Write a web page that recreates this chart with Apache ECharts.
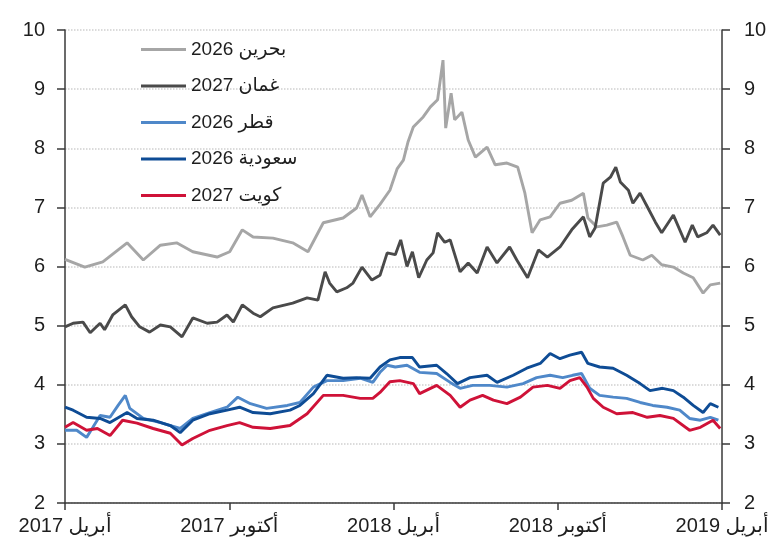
<!DOCTYPE html>
<html><head><meta charset="utf-8">
<script src="https://cdn.jsdelivr.net/npm/echarts@6/dist/echarts.min.js"></script>
<style>html,body{margin:0;padding:0;background:#fff}#c{width:777px;height:557px}</style>
</head><body><div id="c"></div>
<script>
const xTickLabels = ['2017 أبريل','2017 أكتوبر','2018 أبريل','2018 أكتوبر','2019 أبريل'];
const yTicks = [2,3,4,5,6,7,8,9,10];
const seriesNames = ['2026 بحرين','2027 غمان','2026 قطر','2026 سعودية','2027 كويت'];
const seriesColors = ['#a6a6a6','#4a4a4a','#4f88c9','#0e4c95','#cf1238'];

const bahrainDates = ['2017-04-01','2017-04-03','2017-04-23','2017-05-13','2017-06-09','2017-06-27','2017-07-16','2017-08-03','2017-08-21','2017-09-17','2017-10-01','2017-10-15','2017-10-27','2017-11-18','2017-12-10','2017-12-27','2018-01-13','2018-02-04','2018-02-19','2018-02-25','2018-03-06','2018-03-17','2018-03-28','2018-04-05','2018-04-12','2018-04-17','2018-04-23','2018-05-04','2018-05-12','2018-05-20','2018-05-26','2018-05-29','2018-06-04','2018-06-08','2018-06-16','2018-06-23','2018-07-01','2018-07-14','2018-07-23','2018-08-05','2018-08-17','2018-08-25','2018-09-02','2018-09-11','2018-09-22','2018-10-03','2018-10-16','2018-10-29','2018-11-03','2018-11-13','2018-11-24','2018-12-05','2018-12-12','2018-12-20','2019-01-03','2019-01-13','2019-01-24','2019-02-06','2019-02-17','2019-02-28','2019-03-11','2019-03-19','2019-03-30'];
const bahrainValues = [6.12,6.14,5.99,6.08,6.40,6.11,6.36,6.40,6.25,6.16,6.25,6.62,6.50,6.48,6.40,6.25,6.74,6.82,6.99,7.21,6.84,7.05,7.29,7.65,7.80,8.10,8.36,8.53,8.70,8.82,9.49,8.34,8.93,8.48,8.61,8.14,7.85,8.02,7.72,7.75,7.68,7.24,6.57,6.79,6.84,7.07,7.12,7.24,6.82,6.67,6.70,6.75,6.50,6.19,6.11,6.19,6.03,5.99,5.89,5.81,5.55,5.69,5.72];

const omanDates = ['2017-04-01','2017-04-10','2017-04-21','2017-04-29','2017-05-10','2017-05-15','2017-05-24','2017-06-07','2017-06-14','2017-06-23','2017-07-04','2017-07-16','2017-07-27','2017-08-09','2017-08-21','2017-09-06','2017-09-17','2017-09-28','2017-10-05','2017-10-15','2017-10-27','2017-11-04','2017-11-18','2017-12-10','2017-12-26','2018-01-07','2018-01-15','2018-01-20','2018-01-28','2018-02-08','2018-02-15','2018-02-25','2018-03-08','2018-03-17','2018-03-25','2018-04-03','2018-04-09','2018-04-16','2018-04-22','2018-04-29','2018-05-08','2018-05-15','2018-05-20','2018-05-28','2018-06-03','2018-06-14','2018-06-23','2018-07-03','2018-07-14','2018-07-25','2018-08-08','2018-08-16','2018-08-28','2018-09-09','2018-09-19','2018-10-03','2018-10-16','2018-10-29','2018-11-05','2018-11-11','2018-11-20','2018-11-28','2018-12-04','2018-12-09','2018-12-18','2018-12-23','2018-12-31','2019-01-08','2019-01-17','2019-01-24','2019-02-06','2019-02-19','2019-02-27','2019-03-05','2019-03-15','2019-03-22','2019-03-30'];
const omanValues = [4.98,5.04,5.06,4.88,5.04,4.93,5.18,5.35,5.15,4.98,4.89,5.01,4.98,4.81,5.13,5.04,5.06,5.18,5.06,5.35,5.21,5.15,5.30,5.38,5.47,5.43,5.91,5.72,5.57,5.64,5.72,5.99,5.77,5.85,6.23,6.20,6.45,6.00,6.25,5.81,6.11,6.23,6.57,6.41,6.45,5.91,6.06,5.89,6.33,6.06,6.33,6.11,5.81,6.28,6.16,6.33,6.62,6.84,6.50,6.65,7.41,7.51,7.68,7.43,7.29,7.07,7.24,7.01,6.75,6.57,6.87,6.41,6.70,6.50,6.57,6.70,6.53];

const qatarDates = ['2017-04-01','2017-04-14','2017-04-25','2017-05-02','2017-05-10','2017-05-21','2017-05-30','2017-06-07','2017-06-12','2017-06-27','2017-07-16','2017-08-07','2017-08-21','2017-09-09','2017-09-28','2017-10-10','2017-10-24','2017-11-11','2017-12-04','2017-12-18','2018-01-02','2018-01-17','2018-02-04','2018-02-23','2018-03-09','2018-03-17','2018-03-25','2018-04-03','2018-04-16','2018-04-30','2018-05-19','2018-06-03','2018-06-14','2018-06-28','2018-07-17','2018-08-05','2018-08-23','2018-09-07','2018-09-22','2018-10-06','2018-10-17','2018-10-27','2018-11-05','2018-11-16','2018-12-01','2018-12-16','2018-12-31','2019-01-14','2019-01-30','2019-02-13','2019-02-24','2019-03-08','2019-03-19','2019-03-28'];
const qatarValues = [3.23,3.23,3.11,3.28,3.48,3.45,3.65,3.82,3.60,3.43,3.36,3.26,3.43,3.53,3.62,3.79,3.68,3.60,3.65,3.70,3.96,4.07,4.07,4.11,4.04,4.21,4.33,4.30,4.33,4.21,4.19,4.04,3.94,3.99,3.99,3.96,4.02,4.12,4.16,4.12,4.16,4.19,3.94,3.82,3.79,3.77,3.70,3.65,3.62,3.57,3.43,3.40,3.45,3.40];

const saudiDates = ['2017-04-01','2017-04-10','2017-04-25','2017-05-10','2017-05-21','2017-06-09','2017-06-20','2017-07-08','2017-07-27','2017-08-07','2017-08-21','2017-09-09','2017-09-28','2017-10-12','2017-10-27','2017-11-15','2017-12-07','2017-12-18','2018-01-02','2018-01-17','2018-02-04','2018-02-19','2018-03-06','2018-03-17','2018-03-28','2018-04-08','2018-04-22','2018-04-30','2018-05-19','2018-05-30','2018-06-11','2018-06-25','2018-07-14','2018-07-25','2018-08-12','2018-08-27','2018-09-11','2018-09-22','2018-10-03','2018-10-14','2018-10-27','2018-11-03','2018-11-16','2018-12-01','2018-12-16','2018-12-31','2019-01-11','2019-01-25','2019-02-06','2019-02-17','2019-02-28','2019-03-11','2019-03-19','2019-03-28'];
const saudiValues = [3.62,3.57,3.45,3.43,3.36,3.53,3.43,3.40,3.31,3.19,3.40,3.51,3.57,3.62,3.53,3.51,3.57,3.65,3.85,4.16,4.11,4.12,4.11,4.30,4.42,4.46,4.46,4.30,4.33,4.19,4.02,4.12,4.16,4.04,4.16,4.28,4.36,4.53,4.44,4.50,4.55,4.36,4.30,4.28,4.16,4.02,3.90,3.94,3.90,3.79,3.65,3.53,3.68,3.62];

const kuwaitDates = ['2017-04-01','2017-04-10','2017-04-25','2017-05-07','2017-05-21','2017-06-04','2017-06-20','2017-07-08','2017-07-27','2017-08-09','2017-08-21','2017-09-09','2017-09-28','2017-10-12','2017-10-27','2017-11-15','2017-12-07','2017-12-26','2018-01-13','2018-02-04','2018-02-23','2018-03-09','2018-03-17','2018-03-28','2018-04-08','2018-04-23','2018-04-30','2018-05-19','2018-06-03','2018-06-14','2018-06-25','2018-07-09','2018-07-21','2018-08-05','2018-08-20','2018-09-03','2018-09-19','2018-10-03','2018-10-14','2018-10-25','2018-11-02','2018-11-09','2018-11-20','2018-12-05','2018-12-23','2019-01-08','2019-01-22','2019-02-06','2019-02-24','2019-03-08','2019-03-22','2019-03-30'];
const kuwaitValues = [3.28,3.36,3.23,3.26,3.14,3.40,3.35,3.26,3.18,2.98,3.09,3.23,3.31,3.36,3.28,3.26,3.31,3.51,3.82,3.82,3.77,3.77,3.87,4.05,4.07,4.02,3.85,3.99,3.82,3.62,3.74,3.82,3.74,3.68,3.79,3.96,3.99,3.94,4.07,4.12,3.96,3.77,3.62,3.51,3.53,3.45,3.48,3.43,3.23,3.28,3.40,3.26];

const startDate = '2017-04-01';
const DAY = 86400000;
function toDays(d){ return (Date.parse(d) - Date.parse(startDate)) / DAY; }
function pairs(dates, vals){ return dates.map((d,i)=>[toDays(d), vals[i]]); }
const allDates = [bahrainDates, omanDates, qatarDates, saudiDates, kuwaitDates];
const allValues = [bahrainValues, omanValues, qatarValues, saudiValues, kuwaitValues];

const FONT = '"Liberation Sans", Arial, "DejaVu Sans", sans-serif';
const chart = echarts.init(document.getElementById('c'), null, {renderer:'canvas'});
const yAxisCommon = {
  type:'value', min: yTicks[0], max: yTicks[yTicks.length-1], interval: 1,
  axisLine:{show:true, lineStyle:{color:'#3a3a3a', width:1.5}},
  axisTick:{show:true, length:8, inside:false, lineStyle:{color:'#3a3a3a', width:1.5}},
  axisLabel:{color:'#1e1e1e', fontSize:20, fontFamily:FONT},
};
chart.setOption({
  animation:false,
  backgroundColor:'#fff',
  grid:{left:65, right:55, top:30, bottom:54, containLabel:false},
  legend:{
    orient:'vertical', left:136, top:35, itemGap:17.5,
    icon:'rect', itemWidth:45, itemHeight:3,
    textStyle:{fontSize:19, color:'#1e1e1e', fontFamily:FONT},
    data: seriesNames
  },
  xAxis:{
    type:'value', min:0, max:730, interval:182.5,
    axisLine:{show:true, lineStyle:{color:'#3a3a3a', width:1.5}},
    axisTick:{show:true, length:7, lineStyle:{color:'#3a3a3a', width:1.5}},
    axisLabel:{color:'#1e1e1e', fontSize:20, fontFamily:FONT, margin:13, showMinLabel:true, showMaxLabel:true,
      formatter:v=>xTickLabels[Math.round(v/182.5)] || ''},
    splitLine:{show:false}
  },
  yAxis:[
    Object.assign({}, yAxisCommon, {position:'left', axisLabel:Object.assign({}, yAxisCommon.axisLabel, {margin:20}),
      splitLine:{show:true, lineStyle:{color:'#cfcfcf', type:'dotted', width:1.5}}}),
    Object.assign({}, yAxisCommon, {position:'right', axisLabel:Object.assign({}, yAxisCommon.axisLabel, {margin:22}),
      splitLine:{show:false}})
  ],
  series: seriesNames.map((n,i)=>({
    name:n, type:'line', yAxisIndex:0, symbol:'none', showSymbol:false,
    data: pairs(allDates[i], allValues[i]),
    lineStyle:{color:seriesColors[i], width:2.9}, itemStyle:{color:seriesColors[i]}
  }))
});
</script></body></html>
